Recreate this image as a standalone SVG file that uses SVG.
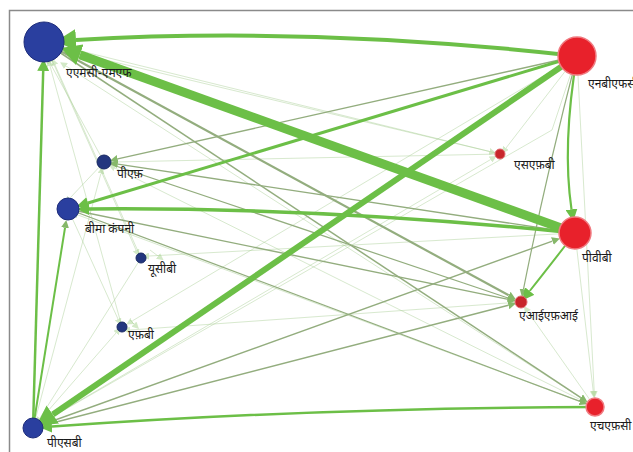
<svg xmlns="http://www.w3.org/2000/svg" width="633" height="452" viewBox="0 0 633 452">
  <style>
    .bg { fill: #ffffff; }
    .frame { stroke: #8a8a8a; stroke-width: 1.5; fill: none; }
    .e { fill: none; stroke-linecap: butt; }
    .g { stroke: #6cbf47; }
    .o { stroke: #93ad7e; }
    .f { stroke: #a9cf95; opacity: 0.45; }
    .n-blue { fill: #2a3f9f; stroke: #1d2c7a; stroke-width: 1; }
    .n-blue-s { fill: #23367f; stroke: #182863; stroke-width: 1; }
    .n-red { fill: #e8212b; stroke: #f07a80; stroke-width: 1.5; }
    .n-red-s { fill: #c8262b; stroke: #e06a6e; stroke-width: 1; }
    text { font-family: "Noto Sans Devanagari", "Lohit Devanagari", "Noto Sans", "Liberation Sans", sans-serif; font-size: 12px; fill: #1a1a1a; }
  </style>
  <defs>
    <marker id="ah-l" markerUnits="userSpaceOnUse" markerWidth="20" markerHeight="22" refX="0" refY="11" orient="auto">
      <path d="M0,0 L20,11 L0,22 z" fill="#6cbf47"/>
    </marker>
    <marker id="ah-m" markerUnits="userSpaceOnUse" markerWidth="12" markerHeight="12" refX="0" refY="6" orient="auto">
      <path d="M0,0 L12,6 L0,12 z" fill="#6cbf47"/>
    </marker>
    <marker id="ah-s" markerUnits="userSpaceOnUse" markerWidth="8" markerHeight="8" refX="0" refY="4" orient="auto">
      <path d="M0,0 L8,4 L0,8 z" fill="#86b86a"/>
    </marker>
    <marker id="ah-f" markerUnits="userSpaceOnUse" markerWidth="7" markerHeight="7" refX="0" refY="3.5" orient="auto">
      <path d="M0,0 L7,3.5 L0,7 z" fill="#9fcf85"/>
    </marker>
  </defs>

  <rect class="bg" x="0" y="0" width="633" height="452"/>
  <path class="frame" d="M9.5,452 V10.5 H633"/>

  <g id="connectors">
    <!-- faint background links -->
    <path class="e f" stroke-width="1" d="M33,428 L490.5,159.6" marker-end="url(#ah-f)"/>
    <path class="e f" stroke-width="1" d="M44,42 L489.3,151.4" marker-end="url(#ah-f)"/>
    <path class="e f" stroke-width="1" d="M577,56 L594.2,391" marker-end="url(#ah-f)"/>
    <path class="e f" stroke-width="1" d="M575,233 L593.2,391" marker-end="url(#ah-f)"/>
    <path class="e f" stroke-width="1" d="M595,407 L527.9,311.8" marker-end="url(#ah-f)"/>
    <path class="e f" stroke-width="1" d="M33,428 L100.9,173.6" marker-end="url(#ah-f)"/>
    <path class="e f" stroke-width="1" d="M595,407 L115,168" marker-end="url(#ah-f)"/>
    <path class="e f" stroke-width="1" d="M595,407 L78,215" marker-end="url(#ah-f)"/>
    <path class="e f" stroke-width="1" d="M122,327 L50,66" marker-end="url(#ah-f)"/>
    <path class="e f" stroke-width="1" d="M141,258 L55,65" marker-end="url(#ah-f)"/>
    <path class="e f" stroke-width="1" d="M104,162 L50,63" marker-end="url(#ah-f)"/>
    <path class="e f" stroke-width="1" d="M44,42 L136,250" marker-end="url(#ah-f)"/>
    <path class="e f" stroke-width="1" d="M575,233 L149,256" marker-end="url(#ah-f)"/>
    <path class="e f" stroke-width="1" d="M577,56 L132.3,320.9" marker-end="url(#ah-f)"/>
    <path class="e f" stroke-width="1" d="M68,209 L118,319" marker-end="url(#ah-f)"/>
    <path class="e f" stroke-width="1" d="M33,428 L116,333" marker-end="url(#ah-f)"/>
    <path class="e f" stroke-width="1" d="M521,302 L130,330" marker-end="url(#ah-f)"/>
    <path class="e f" stroke-width="1" d="M500,154 L114,162" marker-end="url(#ah-f)"/>
    <path class="e f" stroke-width="1" d="M595,407 L66,66" marker-end="url(#ah-f)"/>
    <path class="e f" stroke-width="1" d="M500,154 L64,50" marker-end="url(#ah-f)"/>
    <path class="e f" stroke-width="1" d="M577,56 L506,148" marker-end="url(#ah-f)"/>
    <path class="e f" stroke-width="1" d="M104,162 L70,198" marker-end="url(#ah-f)"/>
    <path class="e f" stroke-width="1" d="M33,428 L552,130 L572,70"/>
    <path class="e f" stroke-width="1" d="M141,258 L40,418" marker-end="url(#ah-f)"/>
    <path class="e f" stroke-width="1" d="M150,250 L158,256" marker-end="url(#ah-f)"/>
    <path class="e f" stroke-width="1" d="M130,320 L134,324" marker-end="url(#ah-f)"/>

    <!-- thin olive links -->
    <path class="e o" stroke-width="1.2" d="M104,162 L508,298" marker-end="url(#ah-s)"/>
    <path class="e o" stroke-width="1.3" d="M68,209 L580,401.4" marker-end="url(#ah-s)"/>
    <path class="e o" stroke-width="1.5" d="M44,42 L580.8,397.6" marker-end="url(#ah-s)"/>
    <path class="e o" stroke-width="1.4" d="M68,209 L508.3,299.4" marker-end="url(#ah-s)"/>
    <path class="e o" stroke-width="1.4" d="M33,428 L508.4,305.3" marker-end="url(#ah-s)"/>
    <path class="e o" stroke-width="1.4" d="M33,428 L552.4,241.1" marker-end="url(#ah-s)"/>
    <path class="e o" stroke-width="1.2" d="M577,56 Q545,180 523.5,289.2" marker-end="url(#ah-s)"/>
    <path class="e o" stroke-width="1.4" d="M577,56 L117.7,158.9" marker-end="url(#ah-s)"/>
    <path class="e o" stroke-width="1.4" d="M575,233 L117.8,164.1" marker-end="url(#ah-s)"/>
    <path class="e o" stroke-width="2.2" d="M44,42 L508.7,295.3" marker-end="url(#ah-s)"/>

    <!-- main green links -->
    <path class="e g" stroke-width="2" d="M33,428 L65,227.8" marker-end="url(#ah-s)"/>
    <path class="e g" stroke-width="2.5" d="M33,428 L43.2,71" marker-end="url(#ah-m)"/>
    <path class="e g" stroke-width="2" d="M575,233 Q548,268 529.7,291" marker-end="url(#ah-m)"/>
    <path class="e g" stroke-width="2.2" d="M577,56 Q562,145 571.5,209.3" marker-end="url(#ah-m)"/>
    <path class="e g" stroke-width="2.5" d="M595,407 Q310,408 52,426.6" marker-end="url(#ah-m)"/>
    <path class="e g" stroke-width="3" d="M577,56 L88,203" marker-end="url(#ah-m)"/>
    <path class="e g" stroke-width="3.5" d="M575,233 Q320,207 89,209" marker-end="url(#ah-m)"/>
    <path class="e g" stroke-width="4" d="M577,56 Q310,26 76,40" marker-end="url(#ah-l)"/>
    <path class="e g" stroke-width="6" d="M577,56 L52.8,414.5" marker-end="url(#ah-l)"/>
    <path class="e g" stroke-width="9" d="M575,233 L79.8,54.8" marker-end="url(#ah-l)"/>
  </g>

  <g id="node-amc-mf">
    <circle class="n-blue" cx="44" cy="42" r="20"/>
    <text x="66" y="77">एएमसी-एमएफ</text>
  </g>
  <g id="node-nbfc">
    <circle class="n-red" cx="577" cy="56" r="19"/>
    <text x="588" y="88">एनबीएफसी</text>
  </g>
  <g id="node-pf">
    <circle class="n-blue-s" cx="104" cy="162" r="7"/>
    <text x="117" y="178">पीएफ़</text>
  </g>
  <g id="node-insurance">
    <circle class="n-blue" cx="68" cy="209" r="11"/>
    <text x="85" y="233">बीमा कंपनी</text>
  </g>
  <g id="node-ucb">
    <circle class="n-blue-s" cx="141" cy="258" r="5"/>
    <text x="148" y="273">यूसीबी</text>
  </g>
  <g id="node-fb">
    <circle class="n-blue-s" cx="122" cy="327" r="5"/>
    <text x="128" y="339">एफ़बी</text>
  </g>
  <g id="node-sfb">
    <circle class="n-red-s" cx="500" cy="154" r="5"/>
    <text x="514" y="169">एसएफ़बी</text>
  </g>
  <g id="node-pvb">
    <circle class="n-red" cx="575" cy="233" r="16"/>
    <text x="582" y="262">पीवीबी</text>
  </g>
  <g id="node-aifi">
    <circle class="n-red-s" cx="521" cy="302" r="6"/>
    <text x="519" y="320">एआईएफ़आई</text>
  </g>
  <g id="node-psb">
    <circle class="n-blue" cx="33" cy="428" r="10"/>
    <text x="47" y="447">पीएसबी</text>
  </g>
  <g id="node-hfc">
    <circle class="n-red" cx="595" cy="407" r="9"/>
    <text x="590" y="430">एचएफ़सी</text>
  </g>
</svg>
